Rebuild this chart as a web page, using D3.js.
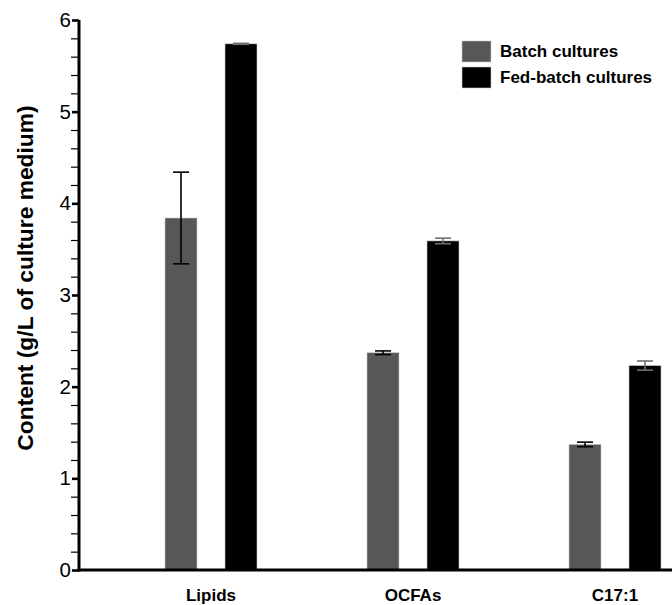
<!DOCTYPE html>
<html>
<head>
<meta charset="utf-8">
<script src="https://cdn.jsdelivr.net/npm/d3@7"></script>
<style>
  html, body { margin: 0; padding: 0; background: #fff; }
  svg { display: block; font-family: "Liberation Sans", Arial, Helvetica, sans-serif; }
</style>
</head>
<body>
<svg id="chart" width="672" height="605"></svg>
<script>
// Lipid, OCFA and C17:1 titres for batch vs fed-batch cultures
const categories = ["Lipids", "OCFAs", "C17:1"];
const seriesNames = ["Batch cultures", "Fed-batch cultures"];
const batchValues = [3.84, 2.37, 1.37];
const batchErrors = [0.50, 0.02, 0.025];
const fedValues = [5.74, 3.59, 2.23];
const fedErrors = [0.005, 0.03, 0.05];
const yTicks = [0, 1, 2, 3, 4, 5, 6];

const seriesColors = ["#575757", "#000000"];
const errorColors = ["#000000", "#6e6e6e"];

const rows = categories.map((c, i) => ({
  category: c,
  bars: [
    { series: seriesNames[0], value: batchValues[i], err: batchErrors[i] },
    { series: seriesNames[1], value: fedValues[i], err: fedErrors[i] }
  ]
}));

const svg = d3.select("#chart");
const W = 672, H = 605;
const axisX = 79, baseY = 570, topY = 20;

const y = d3.scaleLinear().domain([0, 6]).range([baseY, topY]);
const x0 = d3.scaleBand().domain(categories).range([110, 716]).padding(0);
const x1 = d3.scaleBand().domain(seriesNames)
  .range([x0.bandwidth() / 2 - 46, x0.bandwidth() / 2 + 46])
  .paddingInner(0.4667).paddingOuter(0);
const color = d3.scaleOrdinal().domain(seriesNames).range(seriesColors);
const errColor = d3.scaleOrdinal().domain(seriesNames).range(errorColors);

// Bars
const groups = svg.append("g").selectAll("g")
  .data(rows).join("g")
  .attr("transform", d => `translate(${x0(d.category)},0)`);

groups.selectAll("rect")
  .data(d => d.bars).join("rect")
  .attr("x", d => x1(d.series))
  .attr("width", x1.bandwidth())
  .attr("y", d => y(d.value))
  .attr("height", d => y(0) - y(d.value))
  .attr("fill", d => color(d.series))
  .attr("stroke", "#c8c8c8")
  .attr("stroke-width", 0.6);

// Error bars
const capHalf = 8;
const eb = groups.selectAll("g.err")
  .data(d => d.bars).join("g")
  .attr("class", "err")
  .attr("stroke", d => errColor(d.series))
  .attr("stroke-width", 1.6)
  .attr("fill", "none");
eb.append("line")
  .attr("x1", d => x1(d.series) + x1.bandwidth() / 2)
  .attr("x2", d => x1(d.series) + x1.bandwidth() / 2)
  .attr("y1", d => y(d.value + d.err))
  .attr("y2", d => y(d.value - d.err));
eb.append("line")
  .attr("x1", d => x1(d.series) + x1.bandwidth() / 2 - capHalf)
  .attr("x2", d => x1(d.series) + x1.bandwidth() / 2 + capHalf)
  .attr("y1", d => y(d.value + d.err))
  .attr("y2", d => y(d.value + d.err));
eb.append("line")
  .attr("x1", d => x1(d.series) + x1.bandwidth() / 2 - capHalf)
  .attr("x2", d => x1(d.series) + x1.bandwidth() / 2 + capHalf)
  .attr("y1", d => y(d.value - d.err))
  .attr("y2", d => y(d.value - d.err));

// Y axis: minor ticks every 0.2, major ticks with labels
const minorTicks = d3.range(0, 6.0001, 0.2).filter(v => Math.abs(v - Math.round(v)) > 1e-6);
svg.append("g")
  .attr("transform", `translate(${axisX},0)`)
  .call(d3.axisLeft(y).tickValues(minorTicks).tickSize(8).tickFormat(""))
  .call(g => g.select(".domain").remove())
  .call(g => g.selectAll(".tick line").attr("stroke", "#000").attr("stroke-width", 1.2));

const yAxis = svg.append("g")
  .attr("transform", `translate(${axisX},0)`)
  .call(d3.axisLeft(y).tickValues(yTicks).tickSize(7).tickSizeOuter(0).tickPadding(1).tickFormat(d3.format("d")));
yAxis.select(".domain").attr("stroke", "#000").attr("stroke-width", 3)
  .attr("d", `M0,${baseY + 1.5}V${topY}`);
yAxis.selectAll(".tick line").attr("stroke", "#000").attr("stroke-width", 2.6);
yAxis.selectAll(".tick text")
  .attr("font-size", 20.5).attr("fill", "#000")
  .attr("font-family", "'Liberation Sans', Arial, sans-serif");

// X axis
const xAxis = svg.append("g")
  .attr("transform", `translate(0,${baseY})`)
  .call(d3.axisBottom(x0).tickSize(0).tickPadding(19));
xAxis.select(".domain").attr("stroke", "#000").attr("stroke-width", 3)
  .attr("d", `M${axisX - 1.5},0H${W}`);
xAxis.selectAll(".tick text")
  .attr("font-size", 17).attr("font-weight", "bold").attr("fill", "#000")
  .attr("font-family", "'Liberation Sans', Arial, sans-serif");

// Y axis title
svg.append("text")
  .attr("transform", `translate(33,278) rotate(-90)`)
  .attr("text-anchor", "middle")
  .attr("font-size", 22.8)
  .attr("font-weight", "bold")
  .text("Content (g/L of culture medium)");

// Legend
const legend = svg.append("g").attr("transform", "translate(462,41)");
const li = legend.selectAll("g").data(seriesNames).join("g")
  .attr("transform", (d, i) => `translate(0,${i * 26})`);
li.append("rect")
  .attr("width", 29).attr("height", 21)
  .attr("fill", d => color(d))
  .attr("stroke", "#c8c8c8").attr("stroke-width", 0.6);
li.append("text")
  .attr("x", 38).attr("y", 16)
  .attr("font-size", 17).attr("font-weight", "bold")
  .text(d => d);
</script>
</body>
</html>
